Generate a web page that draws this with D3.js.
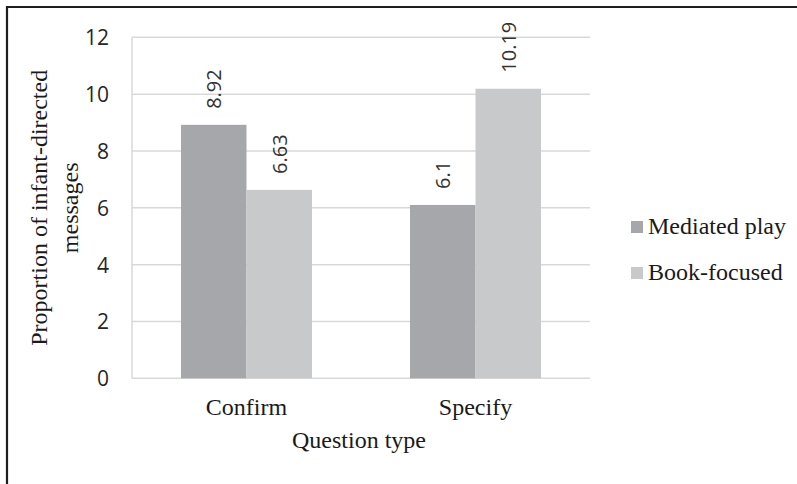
<!DOCTYPE html>
<html>
<head>
<meta charset="utf-8">
<script src="https://cdn.jsdelivr.net/npm/d3@7"></script>
<style>
body{margin:0;background:#fff;}
.tick-label{font-family:'Open Sans',sans-serif;font-size:21px;fill:#262626;}
.serif{font-family:'Liberation Serif','Times New Roman',serif;font-size:24px;fill:#1a1a1a;}
.value{font-family:'Open Sans',sans-serif;font-size:20px;fill:#333;}
</style>
</head>
<body>
<div id="chart"></div>
<script>
const categories = ['Confirm','Specify'];
const series = ['Mediated play','Book-focused'];
const mediated = [8.92, 6.1];
const bookFocused = [6.63, 10.19];
const valueLabels = [['8.92','6.1'],['6.63','10.19']];
const yTicks = [0,2,4,6,8,10,12];

const seriesValues = [mediated, bookFocused];
const colors = d3.scaleOrdinal().domain(series).range(['#a6a7aa','#c8c9cb']);

const width = 797;
const height = 484;

const svg = d3.select('#chart')
.append('svg')
.attr('width',width)
.attr('height',height);

// frame (only top and left edges show in the picture)
svg.append('path')
.attr('d','M7,484 V7 H797')
.attr('fill','none')
.attr('stroke','#1e1e1e')
.attr('stroke-width',2.2);

const plot = {left:132,right:590,top:37.3,bottom:378.3};

const x0 = d3.scaleBand()
.domain(categories)
.range([plot.left,plot.right])
.padding(0);

const x1 = d3.scaleBand()
.domain(series)
.range([0,x0.bandwidth()])
.paddingInner(0)
.paddingOuter(0.748);

const y = d3.scaleLinear()
.domain([0,12])
.range([plot.bottom,plot.top]);

// gridlines
svg.append('g')
.selectAll('line')
.data(yTicks)
.enter()
.append('line')
.attr('x1',plot.left)
.attr('x2',plot.right)
.attr('y1',d=>y(d))
.attr('y2',d=>y(d))
.attr('stroke','#d9d9d9')
.attr('stroke-width',1.5);

// left axis line
svg.append('line')
.attr('x1',plot.left)
.attr('x2',plot.left)
.attr('y1',y(12))
.attr('y2',y(0))
.attr('stroke','#d9d9d9')
.attr('stroke-width',1.5);

// y tick labels
svg.append('g')
.selectAll('text')
.data(yTicks)
.enter()
.append('text')
.classed('tick-label',true)
.attr('x',109)
.attr('y',d=>y(d))
.attr('text-anchor','end')
.attr('dominant-baseline','central')
.text(d=>d);

// bars
const rows = [];
categories.forEach(function(c,i){
    series.forEach(function(s,j){
        rows.push({category:c,series:s,value:seriesValues[j][i],label:valueLabels[j][i]});
    });
});

const groups = svg.append('g');

groups.selectAll('rect')
.data(rows)
.enter()
.append('rect')
.attr('x',d=>x0(d.category)+x1(d.series))
.attr('y',d=>y(d.value))
.attr('width',x1.bandwidth())
.attr('height',d=>y(0)-y(d.value))
.attr('fill',d=>colors(d.series));

// value labels, rotated
groups.selectAll('text')
.data(rows)
.enter()
.append('text')
.classed('value',true)
.each(function(d){
    const cx = x0(d.category)+x1(d.series)+x1.bandwidth()/2;
    const cy = y(d.value)-16;
    d3.select(this)
    .attr('transform',`translate(${cx},${cy}) rotate(-90)`)
    .attr('dominant-baseline','central')
    .attr('text-anchor','start')
    .text(d.label);
});

// category labels
svg.append('g')
.selectAll('text')
.data(categories)
.enter()
.append('text')
.classed('serif',true)
.attr('x',d=>x0(d)+x0.bandwidth()/2)
.attr('y',415)
.attr('text-anchor','middle')
.text(d=>d);

// axis titles
svg.append('text')
.classed('serif',true)
.attr('x',(plot.left+plot.right)/2-2)
.attr('y',448)
.attr('text-anchor','middle')
.text('Question type');

const yTitle = svg.append('text')
.classed('serif',true)
.attr('transform',`translate(47,${(plot.top+plot.bottom)/2}) rotate(-90)`)
.attr('text-anchor','middle');
yTitle.append('tspan').attr('x',0).attr('y',0).text('Proportion of infant-directed');
yTitle.append('tspan').attr('x',0).attr('y',31).text('messages');

// legend
const legend = svg.append('g')
.attr('transform','translate(631,221)')
.selectAll('g')
.data(series)
.enter()
.append('g')
.attr('transform',(d,i)=>`translate(0,${i*46})`);

legend.append('rect')
.attr('width',12)
.attr('height',12)
.attr('fill',d=>colors(d));

legend.append('text')
.classed('serif',true)
.attr('x',17)
.attr('y',13)
.text(d=>d);
</script>
</body>
</html>
